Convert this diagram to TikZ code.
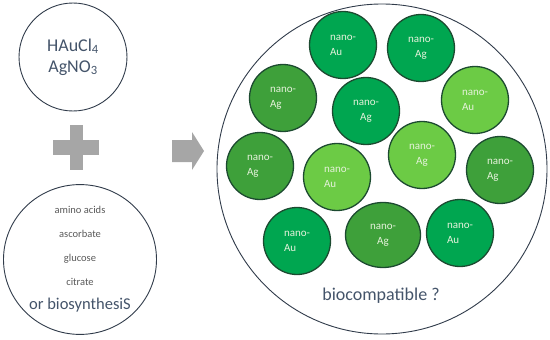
\documentclass[tikz,border=0pt]{standalone}
\usepackage{fontspec}
\setmainfont{Carlito}
\usepackage{xcolor}
\usetikzlibrary{shapes.geometric,positioning}
\definecolor{dkgreen}{HTML}{00A650}
\definecolor{mdgreen}{HTML}{3EA03A}
\definecolor{ltgreen}{HTML}{6CCB45}
\definecolor{rim}{HTML}{1C4A30}
\definecolor{txtlt}{HTML}{E6F2DC}
\definecolor{slate}{HTML}{44546A}
\definecolor{plusgray}{HTML}{A6A6A6}
\begin{document}
\begin{tikzpicture}[x=1pt,y=-1pt,
  blob/.style={
    circle, draw=rim, line width=1.3pt, minimum size=67pt,
    inner sep=0pt, text=txtlt, font=\fontsize{11}{15}\selectfont
  },
  bowl/.style={draw=slate!70!black, line width=0.9pt, inner sep=0pt},
]
\useasboundingbox (0,0) rectangle (550,340);
% reactants
\node[bowl,circle,minimum size=108pt,align=center,text=slate,
  font=\fontsize{18}{21}\selectfont] (salts) at (73,57)
  {HAuCl\textsubscript{4}\\AgNO\textsubscript{3}};
\node[bowl,ellipse,minimum width=153pt,minimum height=147pt,align=center,
  text=black!65,font=\fontsize{10.5}{24}\selectfont] (agents) at (80,259.5)
  {amino acids\\ascorbate\\glucose\\citrate\\
   \color{slate}\fontsize{16.5}{24}\selectfont or biosynthesiS};
% plus sign and block arrow
\fill[plusgray] (70,125) rectangle (83,170);
\fill[plusgray] (53,140) rectangle (99,155);
\fill[plusgray] (172,140) -- (192,140) -- (192,132) -- (204,151)
  -- (192,170) -- (192,162) -- (172,162) -- cycle;
% product pot with particles
\node[bowl,circle,minimum size=330pt] (pot) at (382,169) {};
\foreach \n/\px/\py/\col/\al/\el in {
  1/343/45/dkgreen/left/Au, 2/421/48/dkgreen/center/Ag,
  3/283/98/mdgreen/left/Ag, 4/366/111/dkgreen/center/Ag,
  5/475/100/ltgreen/left/Au, 6/260/166/mdgreen/left/Ag,
  7/337/177/ltgreen/left/Au, 8/422/155/ltgreen/center/Ag,
  9/500/170/mdgreen/left/Ag, 10/297/241/dkgreen/left/Au,
  12/460/233/dkgreen/left/Au}{
  \node[blob,fill=\col,align=\al] (np\n) at (\px,\py) {nano-\\\el};
}
\node[blob,ellipse,minimum width=75pt,minimum height=65pt,fill=mdgreen,
  align=center] (np11) at (383,235) {nano-\\Ag};
\node[anchor=base,text=slate,font=\fontsize{18}{20}\selectfont]
  (question) at (381,300) {biocompatible ?};
\end{tikzpicture}
\end{document}
